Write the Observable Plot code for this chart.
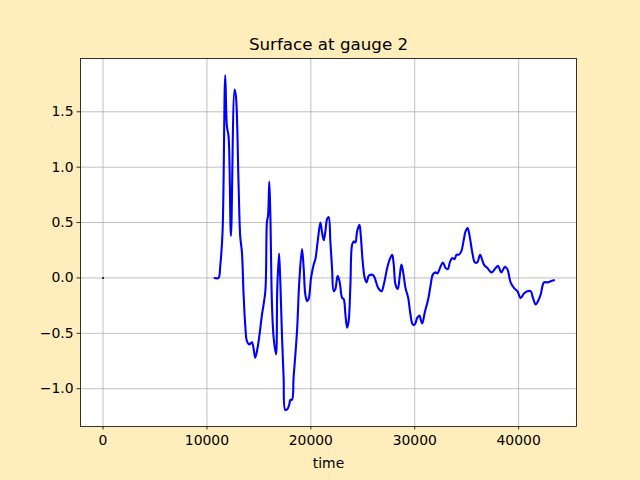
<!DOCTYPE html>
<html>
<head>
<meta charset="utf-8">
<script src="https://cdn.jsdelivr.net/npm/d3@7"></script>
<script src="https://cdn.jsdelivr.net/npm/@observablehq/plot@0.6"></script>
<style>
  html, body { margin: 0; padding: 0; background: #ffeebb; }
</style>
</head>
<body>
<div id="chart"></div>
<script>
const titleText = "Surface at gauge 2";
const xLabel = "time";
const xTicks = [0, 10000, 20000, 30000, 40000];
const yTicks = [-1.0, -0.5, 0.0, 0.5, 1.0, 1.5];

// isolated initial sample
const startTime = [0];
const startValue = [0];

// gauge time series
const times = [10730, 11110, 11280, 11500, 11760, 11920, 12080, 12310, 12660, 12790,
  13040, 13200, 13370, 13520, 13690, 13850, 14100, 14330, 14490, 14650,
  14910, 15300, 15620, 15780, 15880, 16000, 16100, 16260, 16420, 16650,
  16770, 16940, 17060, 17230, 17380, 17540, 17770, 17930, 18030, 18190,
  18340, 18670, 18890, 19150, 19310, 19470, 19640, 19790, 20020, 20270,
  20440, 20660, 20920, 21080, 21240, 21400, 21560, 21720, 21880, 22040,
  22200, 22360, 22580, 22780, 23010, 23160, 23330, 23490, 23640, 23810,
  23970, 24130, 24290, 24450, 24680, 24800, 24990, 25190, 25380, 25570,
  25800, 26050, 26290, 26480, 26800, 27020, 27350, 27600, 27830, 27980,
  28150, 28370, 28560, 28720, 28890, 29110, 29370, 29590, 29810, 30010,
  30240, 30460, 30560, 30720, 30970, 31300, 31520, 31740, 32000, 32190,
  32390, 32710, 32970, 33190, 33380, 33610, 33830, 34030, 34250, 34480,
  34730, 34890, 35090, 35280, 35540, 35790, 36020, 36290, 36660, 36990,
  37400, 37790, 38010, 38330, 38680, 38910, 39230, 39550, 39880, 40200,
  40510, 40840, 41160, 41380, 41640, 41860, 42120, 42440, 42770, 43090,
  43400];
const surface = [0.00, 0.00, 0.11, 0.41, 1.83, 1.37, 1.28, 0.38, 1.70, 1.64,
  0.86, 0.38, 0.23, -0.13, -0.43, -0.57, -0.60, -0.58, -0.64, -0.72,
  -0.61, -0.33, -0.12, 0.51, 0.56, 0.87, 0.58, -0.24, -0.54, -0.69,
  -0.09, 0.22, -0.03, -0.54, -0.90, -1.19, -1.18, -1.14, -1.10, -1.10,
  -0.90, -0.48, -0.03, 0.26, 0.09, -0.15, -0.21, -0.19, 0.00, 0.12,
  0.17, 0.33, 0.50, 0.41, 0.34, 0.42, 0.53, 0.55, 0.33, 0.09,
  -0.12, -0.10, 0.02, -0.04, -0.18, -0.19, -0.33, -0.45, -0.39, -0.06,
  0.30, 0.33, 0.32, 0.42, 0.48, 0.39, 0.15, 0.00, -0.04, 0.02,
  0.03, 0.02, -0.04, -0.09, -0.12, -0.06, 0.09, 0.17, 0.21, 0.12,
  -0.06, -0.10, 0.02, 0.12, 0.05, -0.09, -0.18, -0.33, -0.42, -0.42,
  -0.36, -0.34, -0.37, -0.41, -0.31, -0.19, -0.07, 0.03, 0.05, 0.04,
  0.08, 0.14, 0.09, 0.08, 0.14, 0.18, 0.17, 0.21, 0.21, 0.24,
  0.35, 0.42, 0.45, 0.38, 0.23, 0.14, 0.14, 0.21, 0.12, 0.09,
  0.05, 0.09, 0.11, 0.05, 0.10, 0.08, -0.04, -0.09, -0.12, -0.18,
  -0.14, -0.12, -0.12, -0.18, -0.24, -0.21, -0.15, -0.04, -0.04, -0.03,
  -0.02];

const series = times.map((t, i) => ({t, v: surface[i]}));
const startPoint = startTime.map((t, i) => ({t, v: startValue[i]}));

const allT = startTime.concat(times);
const allV = startValue.concat(surface);
const pad = (lo, hi) => { const r = hi - lo; return [lo - 0.05 * r, hi + 0.05 * r]; };
const xDom = pad(d3.min(allT), d3.max(allT));
const yDom = pad(d3.min(allV), d3.max(allV));

const minus = s => s.replace("-", "\u2212");
const fmtY = d => minus(d3.format(".1f")(d));
const fmtX = d => minus(d3.format("d")(d));

const grid = {stroke: "#b0b0b0", strokeOpacity: 1, strokeWidth: 0.8};

const chart = Plot.plot({
  width: 640,
  height: 480,
  marginLeft: 80,
  marginRight: 64,
  marginTop: 58,
  marginBottom: 54,
  style: {background: "#ffeebb", fontFamily: "DejaVu Sans", fontSize: "13.9px", color: "black"},
  x: {domain: xDom},
  y: {domain: yDom},
  marks: [
    Plot.frame({fill: "white", stroke: "none"}),
    Plot.gridX(xTicks, grid),
    Plot.gridY(yTicks, grid),
    Plot.line(series, {x: "t", y: "v", stroke: "blue", strokeWidth: 2.1, curve: "catmull-rom", strokeLinejoin: "round"}),
    Plot.dot(startPoint, {x: "t", y: "v", r: 1, fill: "black", stroke: "none"}),
    Plot.frame({stroke: "black", strokeWidth: 0.8}),
    Plot.axisX(xTicks, {tickSize: 3.5, tickPadding: 5, tickFormat: fmtX, label: null, fontSize: 13.9, strokeWidth: 0.8}),
    Plot.axisY(yTicks, {tickSize: 3.5, tickPadding: 3.5, tickFormat: fmtY, label: null, fontSize: 13.9, strokeWidth: 0.8}),
    Plot.text([xLabel], {text: d => d, frameAnchor: "bottom", dy: 41, fontSize: 13.9, lineAnchor: "bottom"}),
    Plot.text([titleText], {text: d => d, frameAnchor: "top", dy: -8.5, fontSize: 16.7, lineAnchor: "bottom"})
  ]
});
document.getElementById("chart").appendChild(chart);
</script>
</body>
</html>
